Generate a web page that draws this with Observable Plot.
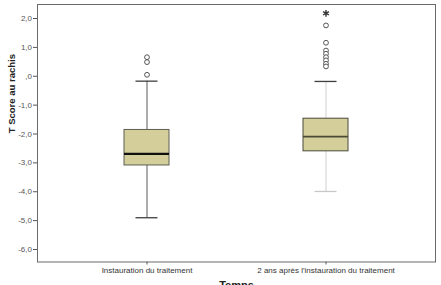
<!DOCTYPE html>
<html>
<head>
<meta charset="utf-8">
<script src="https://cdn.jsdelivr.net/npm/d3@7"></script>
<script src="https://cdn.jsdelivr.net/npm/@observablehq/plot@0.6"></script>
<style>
  html, body { margin: 0; padding: 0; background: #fff; }
  #chart { width: 441px; height: 285px; overflow: hidden; }
  svg { font-family: "Liberation Sans", Arial, sans-serif; }
</style>
</head>
<body>
<div id="chart"></div>
<script>
// ---- data ----
const categories = ["Instauration du traitement", "2 ans après l'instauration du traitement"];
const q1 = [-3.09, -2.60];
const median = [-2.69, -2.09];
const q3 = [-1.86, -1.47];
const whiskerLow = [-4.90, -3.99];
const whiskerHigh = [-0.17, -0.18];
const outliers = [
  [0.66, 0.49, 0.05],
  [1.76, 1.16, 0.89, 0.78, 0.66, 0.55, 0.43, 0.34]
];
const extremes = [
  [],
  [2.18]
];
const yTicks = [-6, -5, -4, -3, -2, -1, 0, 1, 2];

// ---- tables built from the arrays ----
const boxes = categories.map((c, i) => ({
  cat: c, i, q1: q1[i], med: median[i], q3: q3[i], lo: whiskerLow[i], hi: whiskerHigh[i]
}));
const outlierRows = categories.flatMap((c, i) => outliers[i].map(v => ({cat: c, i, v})));
const extremeRows = categories.flatMap((c, i) => extremes[i].map(v => ({cat: c, i, v})));

const fmt = d => d === 0 ? ",0" : d.toFixed(1).replace(".", ",");

const chart = Plot.plot({
  width: 441,
  height: 285,
  marginLeft: 37,
  marginRight: 6,
  marginTop: 4,
  marginBottom: 23.5,
  style: {fontFamily: "'Liberation Sans', Arial, sans-serif", background: "#fff"},
  x: {domain: categories, type: "band", paddingInner: 0.749, paddingOuter: 0.486},
  y: {domain: [-6.433, 2.485]},
  marks: [
    Plot.axisY({ticks: yTicks, tickFormat: fmt, tickSize: 4, tickPadding: 1.5, fontSize: 8, color: "#555", stroke: "#555", label: null}),
    Plot.axisX({tickSize: 3, tickPadding: 2.5, fontSize: 8, color: "#333", stroke: "#555", label: null}),
    Plot.frame({stroke: "#6a6a6a"}),
    // whiskers
    Plot.ruleX(boxes, {x: "cat", y1: "lo", y2: "q1", stroke: d => d.i === 0 ? "#5a5a5a" : "#cfcfcf", strokeWidth: 1}),
    Plot.ruleX(boxes, {x: "cat", y1: "q3", y2: "hi", stroke: d => d.i === 0 ? "#5a5a5a" : "#cfcfcf", strokeWidth: 1}),
    // caps
    Plot.tickY(boxes, {x: "cat", y: "hi", stroke: "#3f3f3f", strokeWidth: 1.3, insetLeft: 11.5, insetRight: 11.5}),
    Plot.tickY(boxes, {x: "cat", y: "lo", stroke: d => d.i === 0 ? "#3f3f3f" : "#c8c8c8", strokeWidth: 1.3, insetLeft: 11.5, insetRight: 11.5}),
    // boxes
    Plot.barY(boxes, {x: "cat", y1: "q1", y2: "q3", fill: "#d4cf9a", stroke: d => d.i === 0 ? "#5e5e55" : "#4a4a3c", strokeWidth: 1}),
    // medians
    Plot.tickY(boxes, {x: "cat", y: "med", stroke: d => d.i === 0 ? "#111" : "#4a4a36", strokeWidth: d => d.i === 0 ? 2.2 : 1.6}),
    // outliers
    Plot.dot(outlierRows, {x: "cat", y: "v", r: 2.4, fill: "#fff", stroke: "#555", strokeWidth: 1}),
    Plot.dot(extremeRows, {x: "cat", y: "v", r: 3.2, symbol: "asterisk", stroke: "#333", strokeWidth: 1.4}),
    // axis titles
    Plot.text(["T Score au rachis"], {frameAnchor: "left", dx: -26, rotate: -90, fontSize: 9.5, fontWeight: "bold", fill: "#222"}),
    Plot.text(["Temps"], {frameAnchor: "bottom", dy: 19, lineAnchor: "top", fontSize: 11, fontWeight: "bold", fill: "#222"})
  ]
});
document.getElementById("chart").appendChild(chart);
</script>
</body>
</html>
